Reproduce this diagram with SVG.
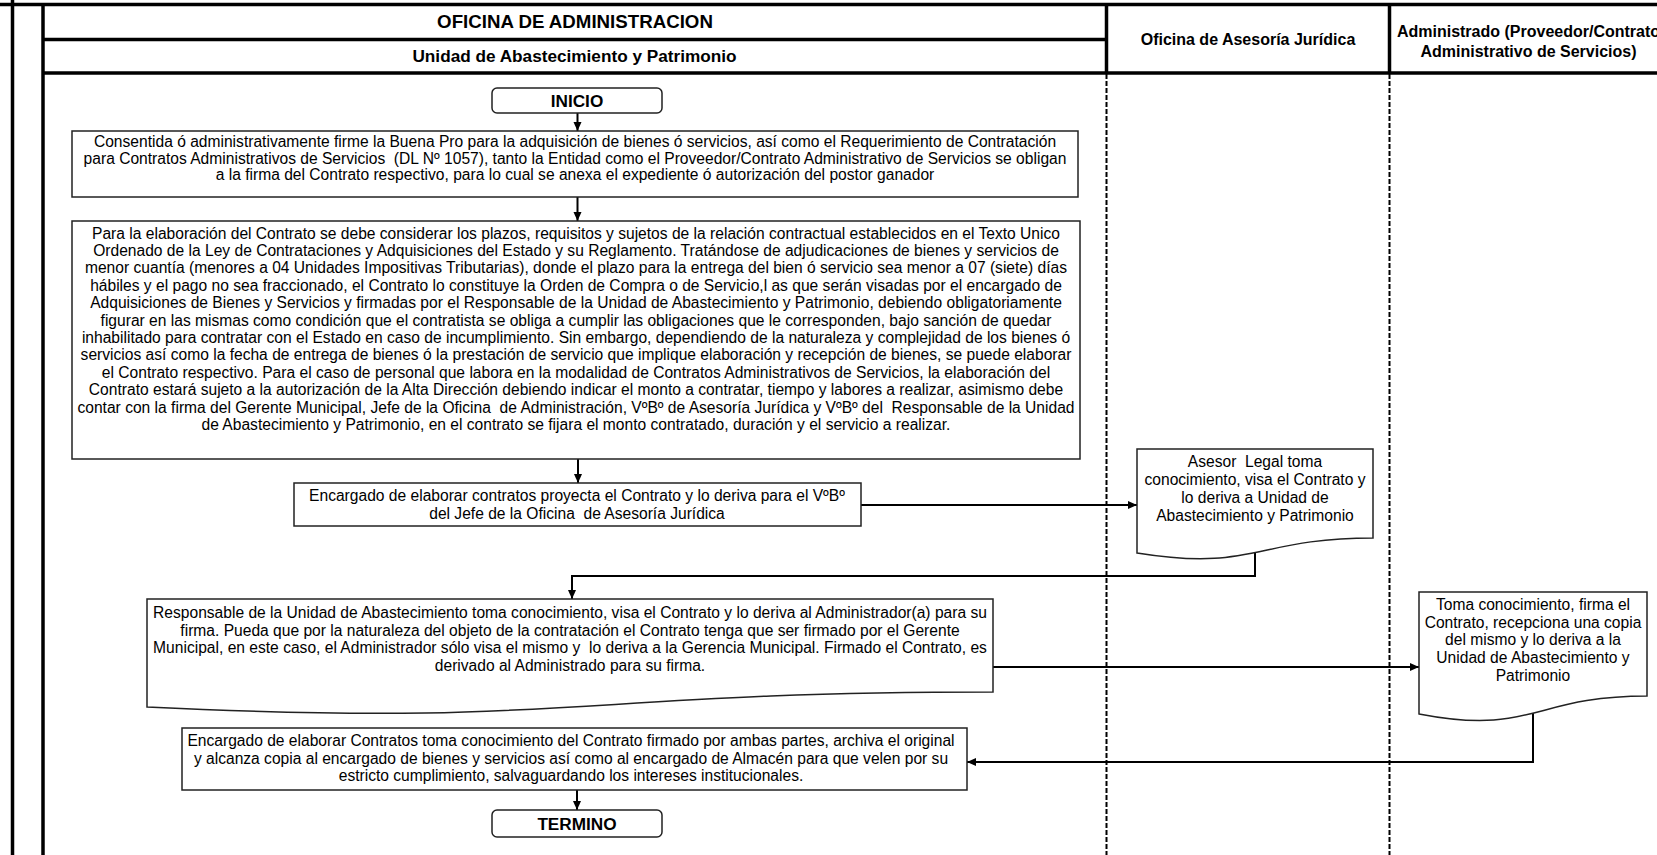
<svg xmlns="http://www.w3.org/2000/svg" width="1657" height="855" viewBox="0 0 1657 855">
  <style>
    .t { font-family: "Liberation Sans", Arial, sans-serif; font-size: 15.6px; fill: #000; text-anchor: middle; white-space: pre; }
    .h { font-family: "Liberation Sans", Arial, sans-serif; font-size: 16px; font-weight: bold; fill: #000; text-anchor: middle; white-space: pre; }
    .term { font-size: 17.2px; }
    .box { fill: #fff; stroke: #222; stroke-width: 1.5; }
    .conn { fill: none; stroke: #000; stroke-width: 2; }
    .lane { stroke: #000; stroke-width: 3.5; fill: none; }
    .dash { stroke: #000; stroke-width: 2; stroke-dasharray: 5 2; fill: none; }
  </style>
  <defs>
    <marker id="arrow" markerUnits="userSpaceOnUse" markerWidth="10" markerHeight="10" refX="9" refY="5" orient="auto">
      <path d="M0,1 L9,5 L0,9 Z" fill="#000"/>
    </marker>
  </defs>
  <rect x="0" y="0" width="1657" height="855" fill="#fff"/>

  <!-- swimlane frame and headers -->
  <g id="lanes">
    <line class="lane" x1="0" y1="4.5" x2="1657" y2="4.5"/>
    <line class="lane" x1="12.5" y1="0" x2="12.5" y2="855"/>
    <line class="lane" x1="43" y1="4.5" x2="43" y2="855"/>
    <line class="lane" x1="43" y1="39.5" x2="1106.5" y2="39.5"/>
    <line class="lane" x1="43" y1="73" x2="1657" y2="73"/>
    <line class="lane" x1="1106.5" y1="4.5" x2="1106.5" y2="73"/>
    <line class="lane" x1="1389.5" y1="4.5" x2="1389.5" y2="73"/>
    <line class="dash" x1="1106.5" y1="74" x2="1106.5" y2="855"/>
    <line class="dash" x1="1389.5" y1="74" x2="1389.5" y2="855"/>
    <text class="h" x="575" y="28" style="font-size:18.7px">OFICINA DE ADMINISTRACION</text>
    <text class="h term" x="574.5" y="62">Unidad de Abastecimiento y Patrimonio</text>
    <text class="h" x="1248" y="45">Oficina de Asesoría Jurídica</text>
    <text class="h" x="1528.5" y="37">Administrado (Proveedor/Contrato</text>
    <text class="h" x="1528.5" y="57">Administrativo de Servicios)</text>
  </g>

  <!-- connectors -->
  <g id="connectors">
    <path class="conn" d="M577.5,113 V131" marker-end="url(#arrow)"/>
    <path class="conn" d="M577.5,197 V221" marker-end="url(#arrow)"/>
    <path class="conn" d="M578,459 V483" marker-end="url(#arrow)"/>
    <path class="conn" d="M861,505 H1137" marker-end="url(#arrow)"/>
    <path class="conn" d="M1255,553 V576 H572 V599" marker-end="url(#arrow)"/>
    <path class="conn" d="M993,667 H1419" marker-end="url(#arrow)"/>
    <path class="conn" d="M1533,713 V762 H967" marker-end="url(#arrow)"/>
    <path class="conn" d="M577,790 V810" marker-end="url(#arrow)"/>
  </g>

  <g id="inicio">
    <rect class="box" x="492" y="88" width="170" height="25" rx="5"/>
    <text class="h term" x="577" y="106.5">INICIO</text>
  </g>

  <g id="buena-pro">
    <rect class="box" x="72" y="131" width="1006" height="66"/>
    <text class="t" x="575" y="147">Consentida ó administrativamente firme la Buena Pro para la adquisición de bienes ó servicios, así como el Requerimiento de Contratación</text>
    <text class="t" x="575" y="163.5">para Contratos Administrativos de Servicios  (DL Nº 1057), tanto la Entidad como el Proveedor/Contrato Administrativo de Servicios se obligan</text>
    <text class="t" x="575" y="180">a la firma del Contrato respectivo, para lo cual se anexa el expediente ó autorización del postor ganador</text>
  </g>

  <g id="elaboracion">
    <rect class="box" x="72" y="221" width="1008" height="238"/>
    <text class="t" x="576" y="238.5">Para la elaboración del Contrato se debe considerar los plazos, requisitos y sujetos de la relación contractual establecidos en el Texto Unico</text>
    <text class="t" x="576" y="255.9">Ordenado de la Ley de Contrataciones y Adquisiciones del Estado y su Reglamento. Tratándose de adjudicaciones de bienes y servicios de</text>
    <text class="t" x="576" y="273.3">menor cuantía (menores a 04 Unidades Impositivas Tributarias), donde el plazo para la entrega del bien ó servicio sea menor a 07 (siete) días</text>
    <text class="t" x="576" y="290.7">hábiles y el pago no sea fraccionado, el Contrato lo constituye la Orden de Compra o de Servicio,l as que serán visadas por el encargado de</text>
    <text class="t" x="576" y="308.1">Adquisiciones de Bienes y Servicios y firmadas por el Responsable de la Unidad de Abastecimiento y Patrimonio, debiendo obligatoriamente</text>
    <text class="t" x="576" y="325.5">figurar en las mismas como condición que el contratista se obliga a cumplir las obligaciones que le corresponden, bajo sanción de quedar</text>
    <text class="t" x="576" y="342.9">inhabilitado para contratar con el Estado en caso de incumplimiento. Sin embargo, dependiendo de la naturaleza y complejidad de los bienes ó</text>
    <text class="t" x="576" y="360.3">servicios así como la fecha de entrega de bienes ó la prestación de servicio que implique elaboración y recepción de bienes, se puede elaborar</text>
    <text class="t" x="576" y="377.7">el Contrato respectivo. Para el caso de personal que labora en la modalidad de Contratos Administrativos de Servicios, la elaboración del</text>
    <text class="t" x="576" y="395.1">Contrato estará sujeto a la autorización de la Alta Dirección debiendo indicar el monto a contratar, tiempo y labores a realizar, asimismo debe</text>
    <text class="t" x="576" y="412.5">contar con la firma del Gerente Municipal, Jefe de la Oficina  de Administración, VºBº de Asesoría Jurídica y VºBº del  Responsable de la Unidad</text>
    <text class="t" x="576" y="429.9">de Abastecimiento y Patrimonio, en el contrato se fijara el monto contratado, duración y el servicio a realizar.</text>
  </g>

  <g id="proyecta">
    <rect class="box" x="294" y="483" width="567" height="43"/>
    <text class="t" x="577" y="501">Encargado de elaborar contratos proyecta el Contrato y lo deriva para el VºBº</text>
    <text class="t" x="577" y="518.5">del Jefe de la Oficina  de Asesoría Jurídica</text>
  </g>

  <g id="asesor-legal">
    <path class="box" d="M1137,449 H1373 V538 C1255,538 1255,572 1137,553 Z"/>
    <text class="t" x="1255" y="467">Asesor  Legal toma</text>
    <text class="t" x="1255" y="485">conocimiento, visa el Contrato y</text>
    <text class="t" x="1255" y="503">lo deriva a Unidad de</text>
    <text class="t" x="1255" y="521">Abastecimiento y Patrimonio</text>
  </g>

  <g id="responsable">
    <path class="box" d="M147,599 H993 V692 C570,692 570,727.5 147,707 Z"/>
    <text class="t" x="570" y="618">Responsable de la Unidad de Abastecimiento toma conocimiento, visa el Contrato y lo deriva al Administrador(a) para su</text>
    <text class="t" x="570" y="635.7">firma. Pueda que por la naturaleza del objeto de la contratación el Contrato tenga que ser firmado por el Gerente</text>
    <text class="t" x="570" y="653.4">Municipal, en este caso, el Administrador sólo visa el mismo y  lo deriva a la Gerencia Municipal. Firmado el Contrato, es</text>
    <text class="t" x="570" y="671.1">derivado al Administrado para su firma.</text>
  </g>

  <g id="administrado-firma">
    <path class="box" d="M1419,592 H1647 V696 C1533,696 1533,736 1419,714 Z"/>
    <text class="t" x="1533" y="610">Toma conocimiento, firma el</text>
    <text class="t" x="1533" y="627.7">Contrato, recepciona una copia</text>
    <text class="t" x="1533" y="645.4">del mismo y lo deriva a la</text>
    <text class="t" x="1533" y="663.1">Unidad de Abastecimiento y</text>
    <text class="t" x="1533" y="680.8">Patrimonio</text>
  </g>

  <g id="archivo">
    <rect class="box" x="182" y="728" width="785" height="62"/>
    <text class="t" x="571" y="746">Encargado de elaborar Contratos toma conocimiento del Contrato firmado por ambas partes, archiva el original</text>
    <text class="t" x="571" y="763.5">y alcanza copia al encargado de bienes y servicios así como al encargado de Almacén para que velen por su</text>
    <text class="t" x="571" y="781">estricto cumplimiento, salvaguardando los intereses institucionales.</text>
  </g>

  <g id="termino">
    <rect class="box" x="492" y="810" width="170" height="27" rx="5"/>
    <text class="h term" x="577" y="829.5">TERMINO</text>
  </g>
</svg>
